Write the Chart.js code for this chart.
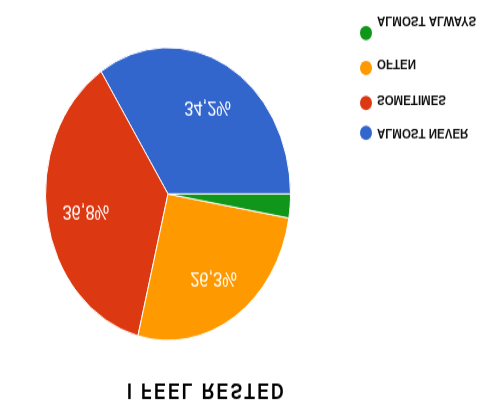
<!DOCTYPE html>
<html>
<head>
<meta charset="utf-8">
<script src="https://cdn.jsdelivr.net/npm/chart.js@4/dist/chart.umd.min.js"></script>
<style>
  html, body { margin: 0; padding: 0; background: #fff; overflow: hidden; width: 503px; height: 417px; }
  #wrap { position: absolute; left: 0; top: 0; width: 503px; height: 349px;
          transform-origin: 0 0; transform: translateY(417px) scaleY(-1.195); }
  canvas { display: block; }
</style>
</head>
<body>
<div id="wrap"><canvas id="c" width="503" height="349"></canvas></div>
<script>
const title = "I FEEL RESTED";
const categories = ["ALMOST NEVER", "SOMETIMES", "OFTEN", "ALMOST ALWAYS"];
const counts = [13, 14, 10, 1];
const percentLabels = ["34,2%", "36,8%", "26,3%", "2,6%"];
const colors = ["#3366CC", "#DC3912", "#FF9900", "#109618"];

const overlay = {
  id: 'overlay',
  afterDatasetsDraw(chart) {
    const ctx = chart.ctx;
    const meta = chart.getDatasetMeta(0);
    // slice labels
    ctx.save();
    ctx.fillStyle = '#fff';
    ctx.font = '16.5px "Liberation Sans", Arial, sans-serif';
    ctx.textAlign = 'center';
    ctx.textBaseline = 'middle';
    meta.data.forEach((arc, i) => {
      const p = arc.getProps(['x','y','startAngle','endAngle','outerRadius'], true);
      const frac = (p.endAngle - p.startAngle) / (2 * Math.PI);
      if (frac < 0.05) return;
      const mid = (p.startAngle + p.endAngle) / 2;
      const r = p.outerRadius * 0.68;
      ctx.fillText(percentLabels[i], p.x + Math.cos(mid) * r, p.y + Math.sin(mid) * r);
    });
    ctx.restore();

    // title
    ctx.save();
    ctx.fillStyle = '#000';
    ctx.font = 'bold 17.5px "Liberation Sans", Arial, sans-serif';
    ctx.letterSpacing = '2.2px';
    ctx.textAlign = 'left';
    ctx.textBaseline = 'middle';
    ctx.fillText(title, 127, 23);
    ctx.restore();

    // legend
    const dotY = [237.7, 262.8, 292.1, 321.3];
    const textY = [237.7, 266.1, 296.2, 331.4];
    ctx.save();
    ctx.font = 'bold 11.5px "Liberation Sans", Arial, sans-serif';
    ctx.textAlign = 'left';
    ctx.textBaseline = 'middle';
    categories.forEach((name, i) => {
      ctx.fillStyle = colors[i];
      ctx.beginPath();
      ctx.arc(366, dotY[i], 6, 0, Math.PI * 2);
      ctx.fill();
      ctx.fillStyle = '#111';
      ctx.fillText(name, 377, textY[i]);
    });
    ctx.restore();
  }
};

new Chart(document.getElementById('c'), {
  type: 'pie',
  data: {
    labels: categories,
    datasets: [{
      data: counts,
      backgroundColor: colors,
      borderColor: '#ffffff',
      borderWidth: 1
    }]
  },
  options: {
    responsive: false,
    animation: false,
    rotation: 90,
    layout: { padding: { left: 45, right: 212, top: 63.6, bottom: 39.4 } },
    plugins: {
      legend: { display: false },
      tooltip: { enabled: false },
      title: { display: false }
    },
    events: []
  },
  plugins: [overlay]
});
</script>
</body>
</html>
